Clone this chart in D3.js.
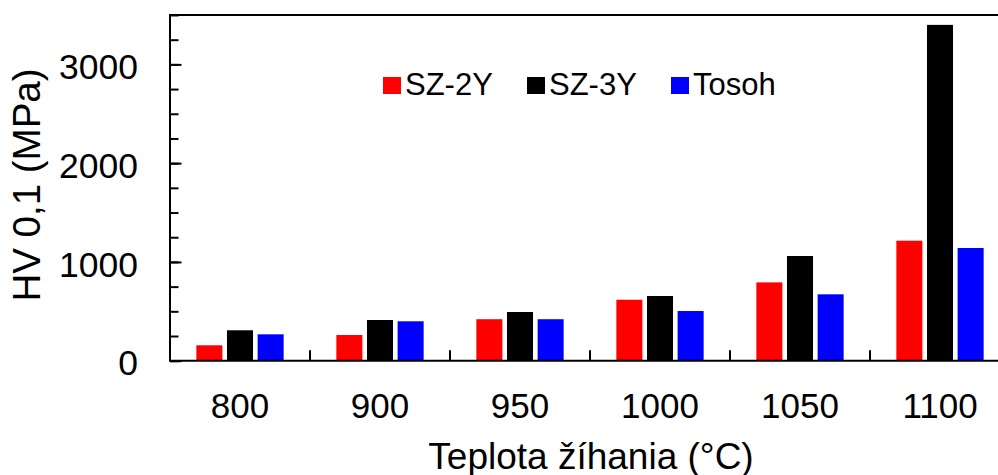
<!DOCTYPE html>
<html>
<head>
<meta charset="utf-8">
<script src="https://cdn.jsdelivr.net/npm/d3@7"></script>
<style>
	html, body { margin: 0; padding: 0; background: #fff; }
	svg { display: block; overflow: hidden; }
	text { font-family: "Liberation Sans", Arial, sans-serif; fill: #000; }
</style>
</head>
<body>
<svg id="chart" width="998" height="475"></svg>
<script>
// data
const temperatures = ['800', '900', '950', '1000', '1050', '1100'];
const seriesNames = ['SZ-2Y', 'SZ-3Y', 'Tosoh'];
const seriesColors = ['#ff0000', '#000000', '#0000ff'];
const sz2y = [156, 260, 420, 617, 793, 1215];
const sz3y = [308, 412, 493, 655, 1060, 3400];
const tosoh = [267, 399, 420, 503, 672, 1141];
const yTicks = [0, 1000, 2000, 3000];

const values = [sz2y, sz3y, tosoh];

const margin = {top: 15, left: 170};
const width = 840;
const height = 345.7;

let svg = d3.select('#chart');
let g = svg.append('g').attr('transform', `translate(${margin.left},${margin.top})`);

let x0 = d3.scaleBand()
	.domain(temperatures)
	.range([0, width]);

let x1 = d3.scaleBand()
	.domain(seriesNames)
	.range([0, x0.bandwidth()])
	.paddingInner(0.15)
	.paddingOuter(0.86);

let y = d3.scaleLinear()
	.domain([0, 3500])
	.range([height, 0]);

// bars
let groups = g.selectAll('.group')
	.data(temperatures)
	.enter()
	.append('g')
	.attr('class', 'group')
	.attr('transform', (d) => `translate(${x0(d)},0)`);

groups.selectAll('rect')
	.data((d, i) => seriesNames.map((s, j) => ({series: s, color: seriesColors[j], value: values[j][i]})))
	.enter()
	.append('rect')
	.attr('x', (d) => x1(d.series))
	.attr('y', (d) => y(d.value))
	.attr('width', x1.bandwidth())
	.attr('height', (d) => height - y(d.value))
	.attr('fill', (d) => d.color);

// minor y ticks
g.append('g')
	.call(
		d3.axisLeft(y)
			.tickValues(d3.range(0, 3501, 250))
			.tickFormat('')
			.tickSizeInner(-8.5)
			.tickSizeOuter(0)
	)
	.call((a) => a.select('.domain').remove())
	.selectAll('line').attr('stroke', '#000').attr('stroke-width', 2);

// major y ticks + labels
let yAxis = g.append('g')
	.call(
		d3.axisLeft(y)
			.tickValues(yTicks)
			.tickFormat(d3.format('d'))
			.tickSizeInner(-11.5)
			.tickSizeOuter(0)
			.tickPadding(32)
	);

yAxis.select('.domain').remove();
yAxis.selectAll('line').attr('stroke', '#000').attr('stroke-width', 2);
yAxis.selectAll('text')
	.attr('dy', '0.4em')
	.style('font-size', '35.5px')
	.style('font-family', '"Liberation Sans", Arial, sans-serif')
	.attr('fill', '#000');

// x labels
let xAxis = g.append('g')
	.attr('transform', `translate(0,${height})`)
	.call(d3.axisBottom(x0).tickSize(0).tickPadding(0));

xAxis.select('.domain').remove();
xAxis.selectAll('text')
	.attr('y', 57.3)
	.attr('dy', null)
	.style('font-size', '35px')
	.style('font-family', '"Liberation Sans", Arial, sans-serif')
	.attr('fill', '#000');

// x category boundary ticks
g.selectAll('.xtick')
	.data(temperatures.slice(1))
	.enter()
	.append('line')
	.attr('x1', (d) => x0(d))
	.attr('x2', (d) => x0(d))
	.attr('y1', height)
	.attr('y2', height - 10.5)
	.attr('stroke', '#000')
	.attr('stroke-width', 2);

// frame: left, top, bottom
g.append('path')
	.attr('d', `M${width + 20},0H0V${height}H${width + 20}`)
	.attr('fill', 'none')
	.attr('stroke', '#000')
	.attr('stroke-width', 2);

// legend
let legend = svg.append('g').attr('transform', 'translate(383,77)');

let items = legend.selectAll('g')
	.data(seriesNames)
	.enter()
	.append('g')
	.attr('transform', (d, i) => `translate(${i * 144},0)`);

items.append('rect')
	.attr('width', 18)
	.attr('height', 17)
	.attr('fill', (d, i) => seriesColors[i]);

items.append('text')
	.attr('x', 22)
	.attr('y', 18)
	.style('font-size', '31px')
	.text((d) => d);

// axis titles
svg.append('text')
	.attr('transform', 'translate(40,185) rotate(-90)')
	.attr('text-anchor', 'middle')
	.style('font-size', '38.5px')
	.text('HV 0,1 (MPa)');

svg.append('text')
	.attr('x', 591)
	.attr('y', 468.5)
	.attr('text-anchor', 'middle')
	.style('font-size', '37px')
	.text('Teplota žíhania (°C)');
</script>
</body>
</html>
